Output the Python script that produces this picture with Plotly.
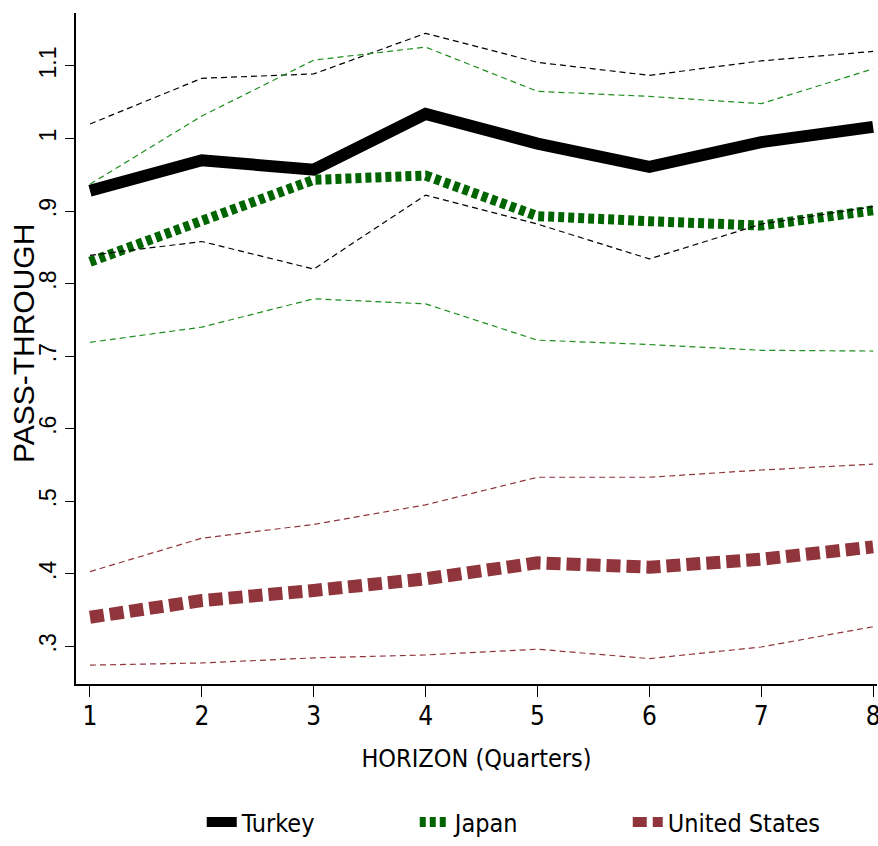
import plotly.graph_objects as go

horizon = [1, 2, 3, 4, 5, 6, 7, 8]

turkey = [0.928, 0.970, 0.957, 1.034, 0.993, 0.961, 0.995, 1.016]
turkey_hi = [1.020, 1.083, 1.089, 1.145, 1.105, 1.087, 1.107, 1.120]
turkey_lo = [0.839, 0.858, 0.820, 0.922, 0.882, 0.834, 0.882, 0.906]

japan = [0.830, 0.887, 0.943, 0.949, 0.893, 0.886, 0.880, 0.901]
japan_hi = [0.937, 1.031, 1.108, 1.126, 1.065, 1.058, 1.048, 1.096]
japan_lo = [0.719, 0.740, 0.779, 0.772, 0.722, 0.716, 0.708, 0.707]

us = [0.340, 0.363, 0.377, 0.393, 0.415, 0.409, 0.420, 0.437]
us_hi = [0.403, 0.449, 0.468, 0.495, 0.533, 0.533, 0.543, 0.551]
us_lo = [0.274, 0.277, 0.284, 0.288, 0.296, 0.283, 0.299, 0.327]

y_tickvals = [0.3, 0.4, 0.5, 0.6, 0.7, 0.8, 0.9, 1.0, 1.1]
y_ticktext = [".3", ".4", ".5", ".6", ".7", ".8", ".9", "1", "1.1"]

BLACK = "#000000"
GREEN = "#006400"
GREEN_CI = "#1f8f1f"
MAROON = "#90353B"

NARROW = "Liberation Sans Narrow, DejaVu Sans Condensed, sans-serif"
REG = "Liberation Sans, Arial, sans-serif"

fig = go.Figure()

fig.add_trace(go.Scatter(x=horizon, y=turkey, mode="lines", name="Turkey",
                         line=dict(color=BLACK, width=12)))
fig.add_trace(go.Scatter(x=horizon, y=japan, mode="lines", name="Japan",
                         line=dict(color=GREEN, width=10, dash="6px,4px")))
fig.add_trace(go.Scatter(x=horizon, y=us, mode="lines", name="United States",
                         line=dict(color=MAROON, width=13, dash="14px,6px")))

for ys, col in [(turkey_hi, BLACK), (turkey_lo, BLACK),
                (japan_hi, GREEN_CI), (japan_lo, GREEN_CI),
                (us_hi, MAROON), (us_lo, MAROON)]:
    fig.add_trace(go.Scatter(x=horizon, y=ys, mode="lines", showlegend=False,
                             hoverinfo="skip",
                             line=dict(color=col, width=1.2, dash="6px,4px")))

fig.update_layout(
    template="none",
    width=878, height=846, autosize=False,
    margin=dict(l=76, r=1, t=13, b=154),
    paper_bgcolor="white", plot_bgcolor="white",
    showlegend=True,
    legend=dict(orientation="h", x=0.157, xanchor="left", y=-0.206, yanchor="middle",
                font=dict(family=NARROW, size=25, color="black"),
                entrywidth=168, bgcolor="rgba(0,0,0,0)"),
    xaxis=dict(range=[0.875, 8.035], tickvals=horizon, ticks="outside", ticklen=11,
               tickcolor="black", tickwidth=1.2, showline=True, linecolor="black",
               linewidth=1.5, showgrid=False, zeroline=False, automargin=False,
               ticklabeloverflow="allow", ticklabelstandoff=-3,
               tickfont=dict(family=NARROW, size=26, color="black"),
               title=dict(text="HORIZON (Quarters)", standoff=20,
                          font=dict(family=NARROW, size=25, color="black"))),
    yaxis=dict(range=[0.248, 1.173], tickvals=y_tickvals, ticktext=y_ticktext,
               tickangle=-90, ticks="outside", ticklen=9, tickcolor="black",
               tickwidth=1.2, showline=True, linecolor="black", linewidth=1.5,
               showgrid=False, zeroline=False, automargin=False,
               tickfont=dict(family=REG, size=23, color="black")),
    annotations=[dict(text="PASS-THROUGH", textangle=-90, xref="paper", yref="paper",
                      x=-0.0662, y=0.508, xanchor="center", yanchor="middle",
                      showarrow=False, font=dict(family=REG, size=30, color="black"))],
)

fig.write_html("out.html", config={"displayModeBar": False, "responsive": False},
               post_script="document.body.style.margin='0';document.body.style.overflow='hidden';")
